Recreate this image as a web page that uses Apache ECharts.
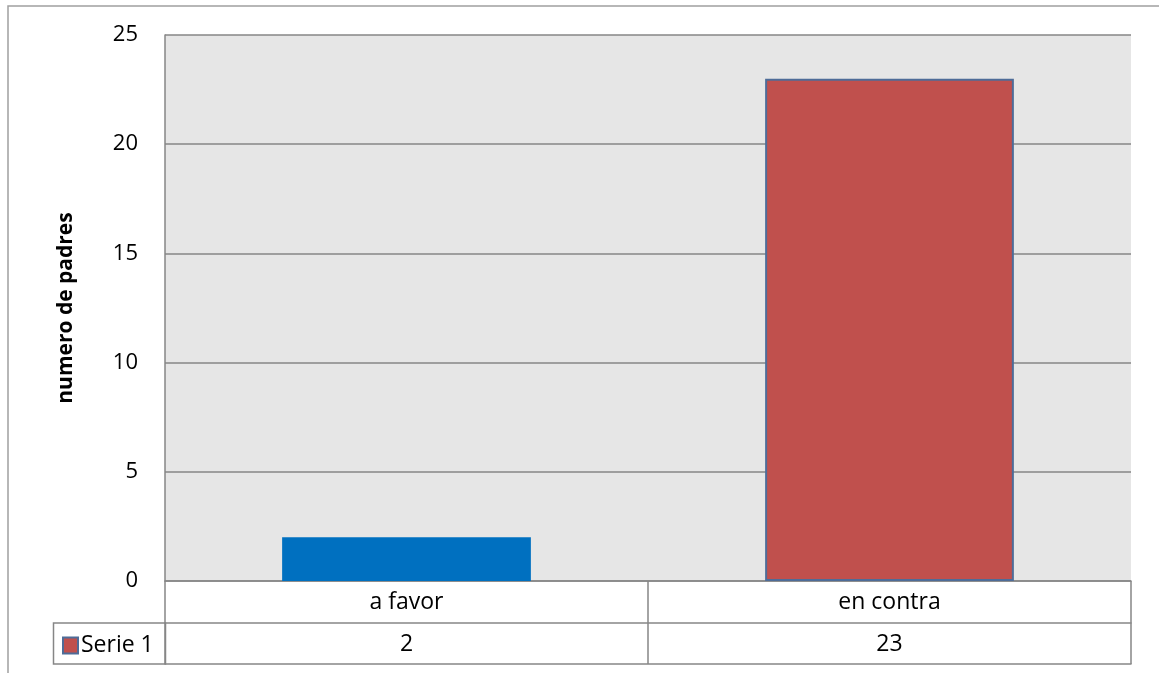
<!DOCTYPE html>
<html>
<head>
<meta charset="utf-8">
<script src="https://cdn.jsdelivr.net/npm/echarts@6/dist/echarts.min.js"></script>
<style>html,body{margin:0;padding:0;background:#fff}#c{width:1159px;height:673px}</style>
</head>
<body>
<div id="c"></div>
<script>
const categories = ['a favor', 'en contra'];
const seriesName = 'Serie 1';
const values = [2, 23];
const barColors = ['#0070c0', '#c0504d'];
const yTicks = { min: 0, max: 25, interval: 5 };
const yTitle = 'numero de padres';

const FONT = 'Open Sans';
const GRAY = '#868686';
const chart = echarts.init(document.getElementById('c'), null, { renderer: 'canvas' });

chart.setOption({
  animation: false,
  backgroundColor: '#fff',
  textStyle: { fontFamily: FONT, color: '#000' },
  grid: { left: 165, right: 28, top: 35, bottom: 92, show: true, backgroundColor: '#e6e6e6', borderWidth: 0 },
  legend: {
    data: [{ name: seriesName, icon: 'rect' }], left: 62, top: 634, itemWidth: 15, itemHeight: 16, itemGap: 6,
    textStyle: { fontFamily: FONT, fontSize: 23, color: '#000', padding: [0, 0, 0, -2] },
    selectedMode: false, padding: 0
  },
  xAxis: [
    {
      type: 'category', data: categories, position: 'bottom',
      axisLine: { show: true, lineStyle: { color: GRAY, width: 1.5 } },
      axisTick: { show: true, length: 83, lineStyle: { color: GRAY, width: 1.5 } },
      axisLabel: { fontFamily: FONT, fontSize: 23, color: '#000', margin: 21, verticalAlign: 'middle' }
    },
    {
      type: 'category', data: values.map(String), position: 'bottom', offset: 42,
      axisLine: { show: true, lineStyle: { color: GRAY, width: 1.5 } },
      axisTick: { show: false },
      axisLabel: { fontFamily: FONT, fontSize: 23, color: '#000', margin: 21, verticalAlign: 'middle' }
    },
    {
      type: 'category', data: categories, position: 'bottom', offset: 83,
      axisLine: { show: true, lineStyle: { color: GRAY, width: 1.5 } },
      axisTick: { show: false }, axisLabel: { show: false }
    }
  ],
  yAxis: {
    type: 'value', min: yTicks.min, max: yTicks.max, interval: yTicks.interval,
    name: yTitle, nameLocation: 'middle', nameGap: 88, nameRotate: 90,
    nameTextStyle: { fontFamily: FONT, fontSize: 21, fontWeight: 'bold', color: '#000' },
    axisLine: { show: true, lineStyle: { color: GRAY, width: 1.5 } },
    axisTick: { show: false },
    axisLabel: { fontFamily: FONT, fontSize: 22, color: '#000', margin: 27 },
    splitLine: { show: true, lineStyle: { color: GRAY, width: 1.5 } }
  },
  series: [{
    name: seriesName, type: 'bar', xAxisIndex: 0, barWidth: '51.5%',
    itemStyle: { color: barColors[1], borderColor: '#4e6c98', borderWidth: 2 },
    data: values.map((v, i) => i === 0
      ? { value: v, itemStyle: { color: barColors[0], borderWidth: 0 } }
      : { value: v, itemStyle: { color: barColors[i] } })
  }],
  graphic: [
    { type: 'rect', shape: { x: 8, y: 6, width: 1300, height: 800 }, style: { fill: 'none', stroke: '#a0a0a0', lineWidth: 1.5 }, silent: true },
    { type: 'rect', shape: { x: 53.5, y: 623, width: 112, height: 41 }, style: { fill: 'none', stroke: GRAY, lineWidth: 1.5 }, silent: true }
  ]
});
</script>
</body>
</html>
